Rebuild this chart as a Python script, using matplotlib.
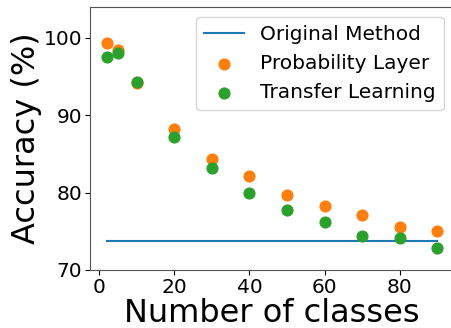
import matplotlib
matplotlib.use("Agg")
import matplotlib.pyplot as plt

# ── Data ──────────────────────────────────────────────────────────────────────
classes       = [2, 5, 10, 20, 30, 40, 50, 60, 70, 80, 90]
prob_layer    = [99.4, 98.5, 94.2, 88.2, 84.3, 82.2, 79.7, 78.3, 77.1, 75.5, 75.1]
transfer      = [97.5, 98.0, 94.3, 87.2, 83.2, 80.0, 77.7, 76.2, 74.4, 74.1, 72.9]
original_acc  = 73.7

# ── Plot ──────────────────────────────────────────────────────────────────────
fig = plt.figure(figsize=(4.51, 3.28), dpi=100)
ax = fig.add_axes([90 / 451, 58 / 328, 364 / 451, 263 / 328])

ax.plot([classes[0], classes[-1]], [original_acc, original_acc],
        color="C0", linewidth=1.5, label="Original Method")
ax.scatter(classes, prob_layer, s=60, color="C1", label="Probability Layer",
           zorder=3)
ax.scatter(classes, transfer, s=60, color="C2", label="Transfer Learning",
           zorder=3)

ax.set_ylim(70, 104)
ax.set_yticks([70, 80, 90, 100])
ax.set_xticks([0, 20, 40, 60, 80])
ax.tick_params(labelsize=14.5, pad=2)
for s in ax.spines.values():
    s.set_color("#555555")
ax.set_xlabel("Number of classes", fontsize=23, labelpad=1)
ax.set_ylabel("Accuracy (%)", fontsize=23, labelpad=1)
ax.legend(fontsize=14.5, loc="upper right", borderaxespad=0.5)

fig.savefig("out.png", dpi=100)
